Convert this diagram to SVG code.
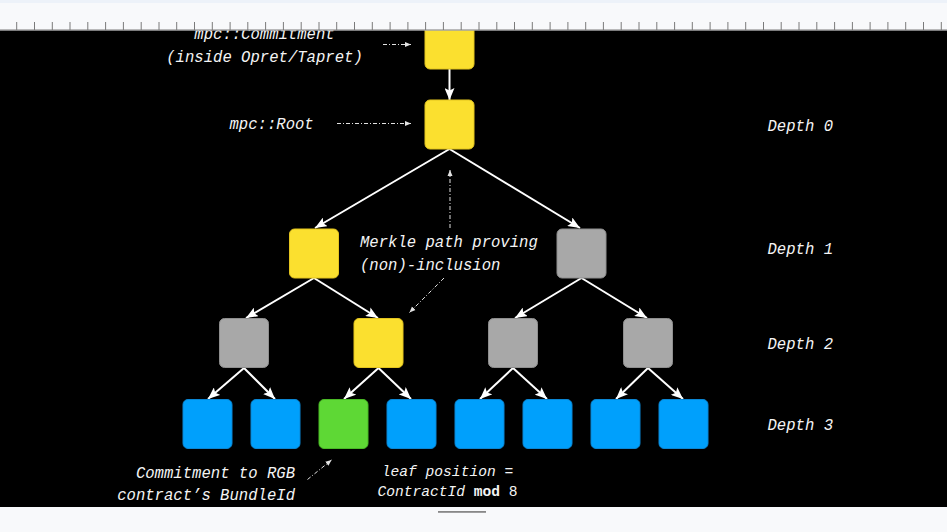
<svg xmlns="http://www.w3.org/2000/svg" width="947" height="532" viewBox="0 0 947 532">
  <defs>
    <style>
      .t { font-family: "Liberation Mono", "DejaVu Sans Mono", monospace; font-style: italic; font-size: 15.6px; fill: #f4f4f4; }
      .ts { font-size: 14.6px; }
      .up { font-style: normal; }
      .b { font-weight: bold; }
      .yel { fill: #fbe02f; stroke: #e3c41f; stroke-width: 1; }
      .gry { fill: #a8a8a8; stroke: #8e8e8e; stroke-width: 1; }
      .blu { fill: #00a0fc; stroke: #0a86d4; stroke-width: 1; }
      .grn { fill: #5ed835; stroke: #49b925; stroke-width: 1; }
      .edge { stroke: #ffffff; stroke-width: 2; fill: none; marker-end: url(#ah); }
      .note { stroke: #e2e2e2; stroke-width: 1; fill: none; stroke-dasharray: 4 2 1 2; marker-end: url(#ahs); }
    </style>
    <marker id="ah" markerUnits="userSpaceOnUse" markerWidth="13" markerHeight="10" refX="12" refY="5" orient="auto">
      <path d="M0,0 L12,5 L0,10 L2.5,5 z" fill="#ffffff"/>
    </marker>
    <marker id="ahs" markerUnits="userSpaceOnUse" markerWidth="7" markerHeight="6" refX="6" refY="3" orient="auto">
      <path d="M0,0.5 L6,3 L0,5.5 z" fill="#e2e2e2"/>
    </marker>
  </defs>

  <!-- canvas -->
  <rect x="0" y="0" width="947" height="532" fill="#000000"/>

  <!-- tree connectors -->
  <g id="connectors">
    <line class="edge" x1="449.5" y1="69" x2="449.5" y2="100"/>
    <line class="edge" x1="449.5" y1="149" x2="315" y2="228"/>
    <line class="edge" x1="449.5" y1="149" x2="580" y2="228"/>
    <line class="edge" x1="314" y1="278" x2="246" y2="318"/>
    <line class="edge" x1="314" y1="278" x2="378" y2="318"/>
    <line class="edge" x1="581.5" y1="278" x2="515" y2="318"/>
    <line class="edge" x1="581.5" y1="278" x2="647" y2="318"/>
    <line class="edge" x1="244" y1="368" x2="208" y2="399"/>
    <line class="edge" x1="244" y1="368" x2="275" y2="399"/>
    <line class="edge" x1="378.5" y1="368" x2="344" y2="399"/>
    <line class="edge" x1="378.5" y1="368" x2="411" y2="399"/>
    <line class="edge" x1="513" y1="368" x2="480" y2="399"/>
    <line class="edge" x1="513" y1="368" x2="547" y2="399"/>
    <line class="edge" x1="648" y1="368" x2="616" y2="399"/>
    <line class="edge" x1="648" y1="368" x2="683" y2="399"/>
    <!-- annotation pointers -->
    <line class="note" x1="383" y1="44.5" x2="411" y2="44.5"/>
    <line class="note" x1="337" y1="123.5" x2="411" y2="123.5"/>
    <line class="note" x1="450" y1="228" x2="450" y2="170"/>
    <line class="note" x1="444" y1="278" x2="409.5" y2="312.5"/>
    <line class="note" x1="307.5" y1="479.5" x2="331.5" y2="460"/>
  </g>

  <!-- nodes -->
  <g id="node-commitment"><rect class="yel" x="425" y="20" width="49" height="49" rx="5"/></g>
  <g id="node-root"><rect class="yel" x="425" y="100" width="49" height="49" rx="5"/></g>
  <g id="node-d1-0"><rect class="yel" x="289.5" y="229" width="49" height="49" rx="5"/></g>
  <g id="node-d1-1"><rect class="gry" x="557" y="229" width="49" height="49" rx="5"/></g>
  <g id="node-d2-0"><rect class="gry" x="219.5" y="318.5" width="49" height="49" rx="5"/></g>
  <g id="node-d2-1"><rect class="yel" x="354" y="318.5" width="49" height="49" rx="5"/></g>
  <g id="node-d2-2"><rect class="gry" x="488.5" y="318.5" width="49" height="49" rx="5"/></g>
  <g id="node-d2-3"><rect class="gry" x="623.5" y="318.5" width="49" height="49" rx="5"/></g>
  <g id="node-d3-0"><rect class="blu" x="183" y="399.5" width="49" height="49" rx="5"/></g>
  <g id="node-d3-1"><rect class="blu" x="251" y="399.5" width="49" height="49" rx="5"/></g>
  <g id="node-d3-2"><rect class="grn" x="319" y="399.5" width="49" height="49" rx="5"/></g>
  <g id="node-d3-3"><rect class="blu" x="387" y="399.5" width="49" height="49" rx="5"/></g>
  <g id="node-d3-4"><rect class="blu" x="455" y="399.5" width="49" height="49" rx="5"/></g>
  <g id="node-d3-5"><rect class="blu" x="523" y="399.5" width="49" height="49" rx="5"/></g>
  <g id="node-d3-6"><rect class="blu" x="591" y="399.5" width="49" height="49" rx="5"/></g>
  <g id="node-d3-7"><rect class="blu" x="659" y="399.5" width="49" height="49" rx="5"/></g>

  <!-- labels -->
  <g id="labels">
    <text class="t" x="264.5" y="38.5" text-anchor="middle">mpc::Commitment</text>
    <text class="t" x="264.5" y="62" text-anchor="middle">(inside Opret/Tapret)</text>
    <text class="t" x="229.5" y="129">mpc::Root</text>
    <text class="t" x="360" y="246.5">Merkle path proving</text>
    <text class="t" x="360" y="269.5">(non)-inclusion</text>
    <text class="t" x="767.5" y="130.5">Depth 0</text>
    <text class="t" x="767.5" y="254">Depth 1</text>
    <text class="t" x="767.5" y="348.5">Depth 2</text>
    <text class="t" x="767.5" y="430">Depth 3</text>
    <text class="t" x="295" y="477.5" text-anchor="end">Commitment to RGB</text>
    <text class="t" x="295" y="500" text-anchor="end">contract’s BundleId</text>
    <text class="t ts" x="447.5" y="475.5" text-anchor="middle">leaf position =</text>
    <text class="t ts" x="447.5" y="496" text-anchor="middle">ContractId <tspan class="up b">mod</tspan><tspan class="up"> 8</tspan></text>
  </g>

  <!-- top ruler strip -->
  <g id="ruler">
    <rect x="0" y="0" width="947" height="30.5" fill="#f8f9fb"/>
    <rect x="0" y="0" width="947" height="3" fill="#edf2f9"/>
    <path d="M16.7 22V30M34.5 22V30M52.3 22V30M70 22V30M87.8 22V30M105.6 22V30M123.4 22V30M141.2 22V30M159 22V30M176.7 22V30M194.5 22V30M212.3 22V30M230.1 22V30M247.8 22V30M265.6 22V30M283.4 22V30M301.2 22V30M319 22V30M336.7 22V30M354.5 22V30M372.3 22V30M390.1 22V30M407.9 22V30M425.6 22V30M443.4 22V30M461.2 22V30M479 22V30M496.8 22V30M514.5 22V30M532.3 22V30M550.1 22V30M567.9 22V30M585.7 22V30M603.4 22V30M621.2 22V30M639 22V30M656.8 22V30M674.6 22V30M692.3 22V30M710.1 22V30M727.9 22V30M745.7 22V30M763.5 22V30M781.2 22V30M799 22V30M816.8 22V30M834.6 22V30M852.4 22V30M870.1 22V30M887.9 22V30M905.7 22V30M923.5 22V30M941.3 22V30" stroke="#7a7a7a" stroke-width="1" fill="none"/>
    <line x1="0" y1="30" x2="947" y2="30" stroke="#7a7a7a" stroke-width="1.2"/>
  </g>

  <!-- bottom strip -->
  <g id="footer">
    <rect x="0" y="507" width="947" height="25" fill="#f8f9fb"/>
    <rect x="438" y="511" width="48" height="1.8" fill="#888888"/>
  </g>
</svg>
